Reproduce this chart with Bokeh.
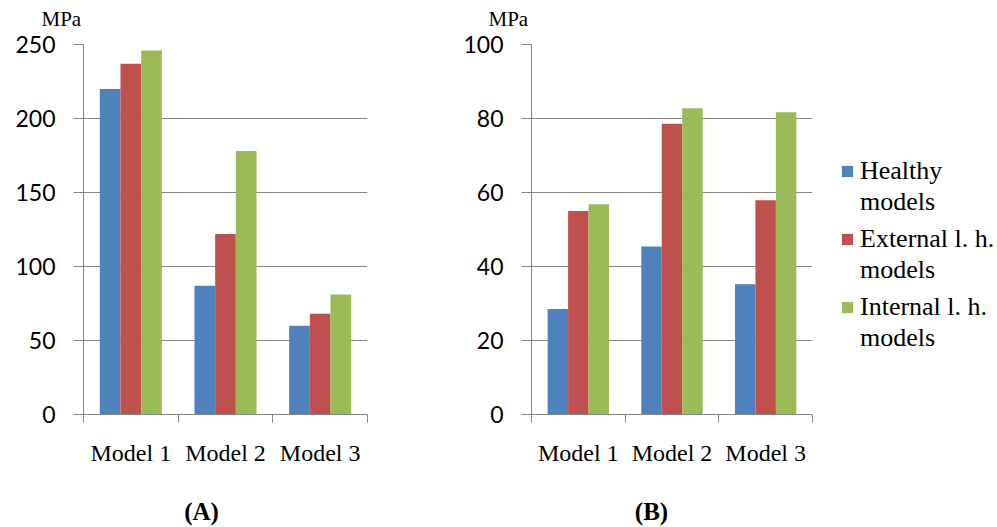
from bokeh.plotting import figure
from bokeh.models import Range1d, FixedTicker, Legend, LegendItem, ColumnDataSource, Label
from bokeh.layouts import row, column
from bokeh.embed import file_html
from bokeh.resources import INLINE
import numpy as np

categories = ["Model 1", "Model 2", "Model 3"]
series_names = [["Healthy", "models"], ["External l. h.", "models"], ["Internal l. h.", "models"]]
colors = ["#4F81BD", "#C0504D", "#9BBB59"]
panel_letters = ["(A)", "(B)"]
unit = "MPa"

a_healthy = [220, 87, 60]
a_external = [237, 122, 68]
a_internal = [246, 178, 81]
a_ticks = [0, 50, 100, 150, 200, 250]

b_healthy = [28.5, 45.4, 35.2]
b_external = [55, 78.6, 57.9]
b_internal = [56.8, 82.8, 81.7]
b_ticks = [0, 20, 40, 60, 80, 100]

GRAY = "#868686"
BAR_W = 0.2185
SERIF = "Liberation Serif"
W = 997
TOP_H = 30
BOT_H = 60
FRAME_H = 370


def blank_fig(width, height, xr, yr):
    f = figure(width=width, height=height, x_range=xr, y_range=yr,
               min_border=0, x_axis_type=None, y_axis_type=None,
               output_backend="svg", toolbar_location=None, tools="",
               title_location=None)
    f.outline_line_color = None
    f.background_fill_color = "white"
    f.border_fill_color = "white"
    f.xgrid.visible = False
    f.ygrid.visible = False
    return f


def make_panel(series, ticks, lb, fw, rb):
    n = len(categories)
    centers = np.arange(n) + 0.5
    p = figure(x_range=Range1d(0, n), y_range=Range1d(ticks[0], ticks[-1]),
               frame_width=fw, frame_height=FRAME_H,
               min_border_left=lb, min_border_right=rb,
               min_border_top=14, min_border_bottom=53,
               output_backend="svg", toolbar_location=None, tools="",
               title_location=None)
    p.outline_line_color = None
    p.background_fill_color = "white"
    p.border_fill_color = "white"

    for k, vals in enumerate(series):
        src = ColumnDataSource(dict(x=centers + (k - 1) * BAR_W, top=vals))
        p.vbar(x="x", top="top", bottom=0, width=BAR_W, source=src,
               fill_color=colors[k], line_color=None)

    xa = p.xaxis[0]
    xa.ticker = FixedTicker(ticks=list(centers), minor_ticks=list(range(n + 1)))
    xa.major_label_overrides = {float(c): categories[i] for i, c in enumerate(centers)}
    xa.major_tick_out = 0
    xa.major_tick_in = 0
    xa.minor_tick_out = 8
    xa.minor_tick_in = 0
    xa.minor_tick_line_color = GRAY
    xa.axis_line_color = GRAY
    xa.major_label_text_font = SERIF
    xa.major_label_text_font_size = "24px"
    xa.major_label_text_color = "black"
    xa.major_label_standoff = 17

    ya = p.yaxis[0]
    ya.ticker = FixedTicker(ticks=ticks, minor_ticks=[])
    ya.major_tick_out = 10
    ya.major_tick_in = 0
    ya.major_tick_line_color = GRAY
    ya.axis_line_color = GRAY
    ya.major_label_text_font = "Lato"
    ya.major_label_text_font_size = "23px"
    ya.major_label_text_color = "black"
    ya.major_label_standoff = 18

    p.xgrid.visible = False
    p.ygrid.ticker = FixedTicker(ticks=ticks, minor_ticks=[])
    p.ygrid.grid_line_color = GRAY
    p.ygrid.grid_line_width = 1
    return p


pa = make_panel([a_healthy, a_external, a_internal], a_ticks, lb=83, fw=284, rb=83)
pb = make_panel([b_healthy, b_external, b_internal], b_ticks, lb=81, fw=281, rb=10)
row_h = 14 + FRAME_H + 53

# legend figure (right of panel B); swatch renderers sit outside the visible range
pleg = blank_fig(175, row_h, Range1d(0, 1), Range1d(0, 1))
legend_bottoms = [196, 128, 60]
for k in range(len(series_names)):
    swatch = pleg.vbar(x=[-5], top=[-5], bottom=[-6], width=0.1,
                       fill_color=colors[k], line_color=None)
    blank = pleg.vbar(x=[], top=[], width=0.1, fill_color=None, line_color=None)
    lg = Legend(items=[LegendItem(label=series_names[k][0], renderers=[swatch]),
                       LegendItem(label=series_names[k][1], renderers=[blank])],
                location=(18, legend_bottoms[k]))
    lg.label_text_font = SERIF
    lg.label_text_font_size = "26px"
    lg.label_text_color = "black"
    lg.glyph_width = 14
    lg.glyph_height = 14
    lg.label_standoff = 6
    lg.spacing = 1
    lg.padding = 0
    lg.margin = 0
    lg.border_line_color = None
    lg.background_fill_alpha = 0
    pleg.add_layout(lg)

# top strip with unit labels (y measured downward from the page top)
top = blank_fig(W, TOP_H, Range1d(0, W), Range1d(TOP_H, 0))
for xpos in [41, 488]:
    top.add_layout(Label(x=xpos, y=18, text=unit, text_font=SERIF, text_font_size="21px",
                         text_baseline="middle", text_color="black"))

# bottom strip with panel letters
y0 = TOP_H + row_h
bot = blank_fig(W, BOT_H, Range1d(0, W), Range1d(y0 + BOT_H, y0))
for xpos, letter in zip([201, 651], panel_letters):
    bot.add_layout(Label(x=xpos, y=510, text=letter, text_font=SERIF, text_font_size="25px",
                         text_font_style="bold", text_align="center",
                         text_baseline="middle", text_color="black"))

layout = column(top, row(pa, pb, pleg), bot)
open("out.html", "w").write(file_html(layout, INLINE))
